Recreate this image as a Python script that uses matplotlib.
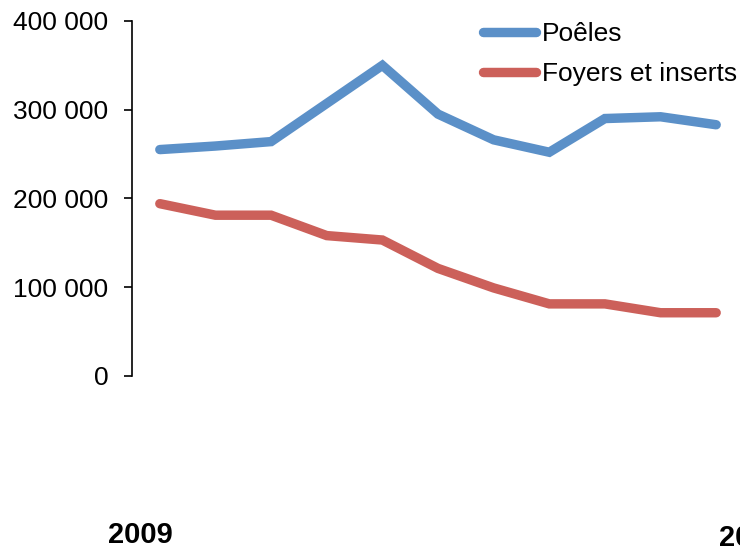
import matplotlib
matplotlib.use("Agg")
import matplotlib.pyplot as plt
from matplotlib.ticker import FuncFormatter

plt.rcParams['font.family'] = ['Liberation Sans', 'DejaVu Sans']

years = list(range(2009, 2020))
poeles = [255000, 259000, 264000, 307000, 350000, 295000, 266000, 252000, 290000, 292000, 283000]
foyers = [194000, 181000, 181000, 158000, 153000, 121000, 99000, 81000, 81000, 71000, 71000]
series_names = ["Poêles", "Foyers et inserts"]
yticks = [0, 100000, 200000, 300000, 400000]
shown_year_labels = ["2009", "2019"]

fig = plt.figure(figsize=(7.4, 5.48), dpi=100)
ax = fig.add_axes([132/740, (548-375.7)/548, (744-132)/740, 354.7/548])

x = list(range(len(years)))
ax.plot(x, poeles, color='#5B90C8', lw=6.8, solid_capstyle='round', solid_joinstyle='miter', label=series_names[0])
ax.plot(x, foyers, color='#CC605A', lw=6.8, solid_capstyle='round', solid_joinstyle='miter', label=series_names[1])

ax.set_xlim(-0.5, len(years) - 0.5)
ax.set_ylim(0, 400000)
ax.set_yticks(yticks)
ax.yaxis.set_major_formatter(FuncFormatter(lambda v, p: f"{int(v):,}".replace(",", " ")))
ax.tick_params(axis='y', direction='out', length=6, width=1.2, labelsize=19, pad=11, colors='black')
ax.set_xticks([])
for s in ['top', 'right', 'bottom']:
    ax.spines[s].set_visible(False)
ax.spines['left'].set_linewidth(1.2)
ax.spines['left'].set_color('black')

leg = ax.legend(loc='upper left', bbox_to_anchor=(483/740, 1 - 22/548), bbox_transform=fig.transFigure,
                frameon=False, fontsize=19, handlelength=2.0, handletextpad=0.25, labelspacing=0.6,
                borderaxespad=0, borderpad=0)

fig.text(140/740, 1 - 543/548, shown_year_labels[0], ha='center', va='baseline', fontsize=21, fontweight='bold')
fig.text(719/740, 1 - 546/548, shown_year_labels[1], ha='left', va='baseline', fontsize=21, fontweight='bold')

fig.savefig("out.png", dpi=100)
